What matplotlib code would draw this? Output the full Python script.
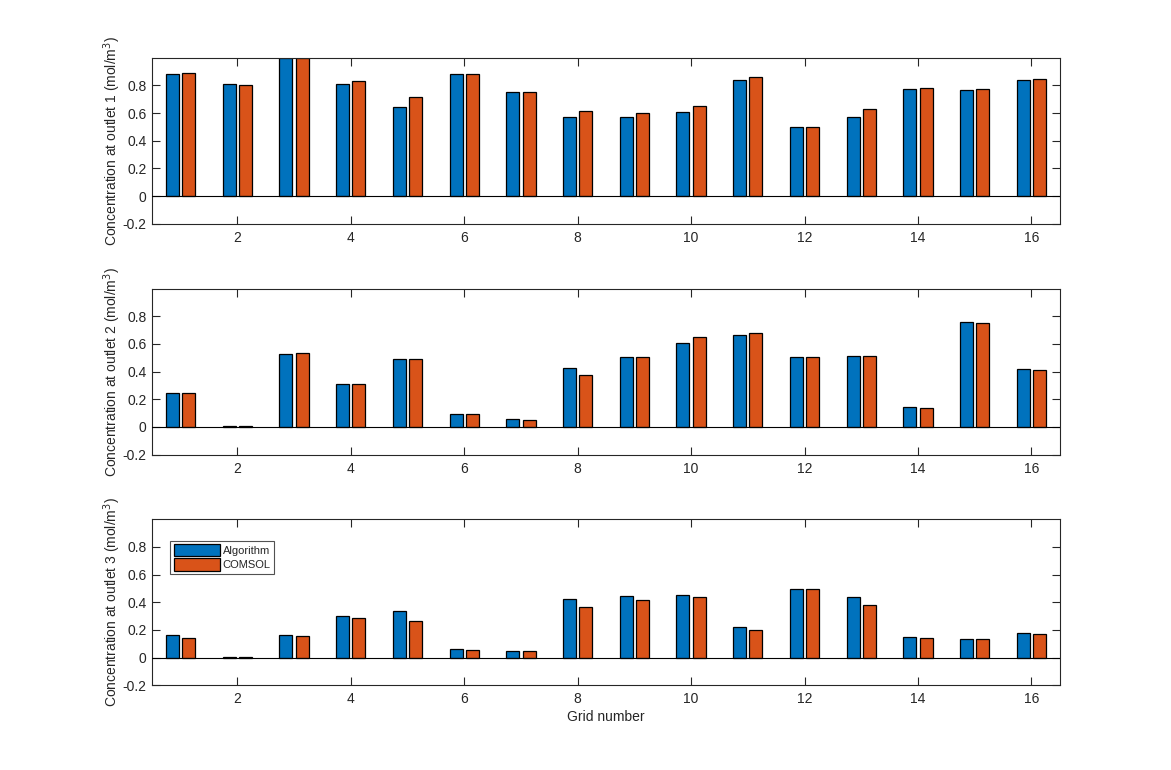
import matplotlib
matplotlib.use("Agg")
import matplotlib.pyplot as plt
import numpy as np

# Grid numbers and outlet concentrations (mol/m^3)
grid = np.arange(1, 17)

alg_outlet1 = [0.882, 0.810, 1.000, 0.810, 0.644, 0.882, 0.752, 0.572,
               0.572, 0.610, 0.841, 0.501, 0.573, 0.776, 0.769, 0.841]
com_outlet1 = [0.889, 0.803, 1.000, 0.832, 0.716, 0.882, 0.752, 0.615,
               0.601, 0.653, 0.863, 0.501, 0.631, 0.783, 0.776, 0.848]

alg_outlet2 = [0.246, 0.005, 0.530, 0.310, 0.488, 0.097, 0.054, 0.424,
               0.502, 0.608, 0.665, 0.502, 0.509, 0.147, 0.757, 0.417]
com_outlet2 = [0.246, 0.005, 0.537, 0.310, 0.488, 0.097, 0.047, 0.374,
               0.502, 0.651, 0.679, 0.502, 0.516, 0.140, 0.750, 0.409]

alg_outlet3 = [0.162, 0.005, 0.162, 0.298, 0.340, 0.062, 0.048, 0.426,
               0.448, 0.455, 0.219, 0.498, 0.440, 0.148, 0.133, 0.176]
com_outlet3 = [0.140, 0.005, 0.155, 0.283, 0.262, 0.055, 0.048, 0.369,
               0.419, 0.440, 0.198, 0.498, 0.383, 0.140, 0.133, 0.169]

xticks = [2, 4, 6, 8, 10, 12, 14, 16]
yticks = [-0.2, 0, 0.2, 0.4, 0.6, 0.8]
series_names = ["Algorithm", "COMSOL"]

BLUE = "#0072BD"
ORANGE = "#D95319"
DARK = "#262626"

plt.rcParams.update({
    "font.family": ["Liberation Sans", "DejaVu Sans"],
    "font.size": 10,
    "text.color": DARK,
    "axes.labelcolor": DARK,
    "xtick.color": DARK,
    "ytick.color": DARK,
    "axes.edgecolor": DARK,
    "axes.linewidth": 0.8,
})

fig = plt.figure(figsize=(11.71, 7.70), dpi=100)

# MATLAB default subplot(3,1,k) positions
bottoms = [0.7093, 0.4096, 0.11]
panels = [(alg_outlet1, com_outlet1), (alg_outlet2, com_outlet2), (alg_outlet3, com_outlet3)]

offset = 0.143
width = 0.2286

for k, (alg, com) in enumerate(panels):
    ax = fig.add_axes([0.13, bottoms[k], 0.775, 0.2157])
    ax.bar(grid - offset, alg, width=width, color=BLUE, edgecolor="black",
           linewidth=0.9, label=series_names[0], zorder=2)
    ax.bar(grid + offset, com, width=width, color=ORANGE, edgecolor="black",
           linewidth=0.9, label=series_names[1], zorder=2)
    ax.axhline(0, color="black", lw=0.8, zorder=3)
    ax.set_xlim(0.5, 16.5)
    ax.set_ylim(-0.2, 1.0)
    ax.set_xticks(xticks)
    ax.set_yticks(yticks)
    ax.set_yticklabels(["-0.2", "0", "0.2", "0.4", "0.6", "0.8"])
    ax.tick_params(axis="x", direction="in", length=6, width=0.8, top=True, pad=5)
    ax.tick_params(axis="y", direction="in", length=6, width=0.8, right=True, pad=4)
    ax.set_ylabel(f"Concentration at outlet {k + 1} (mol/m$^3$)", labelpad=0)
    if k == 2:
        ax.set_xlabel("Grid number", labelpad=3)
        leg = ax.legend(loc="upper left", bbox_to_anchor=(0.02, 0.87),
                        fontsize=8, frameon=True, fancybox=False,
                        handlelength=4.2, handleheight=1.3, handletextpad=0.2,
                        borderpad=0.3, labelspacing=0.2, borderaxespad=0)
        leg.get_frame().set_edgecolor(DARK)
        leg.get_frame().set_linewidth(0.8)

fig.savefig("out.png", dpi=100)
